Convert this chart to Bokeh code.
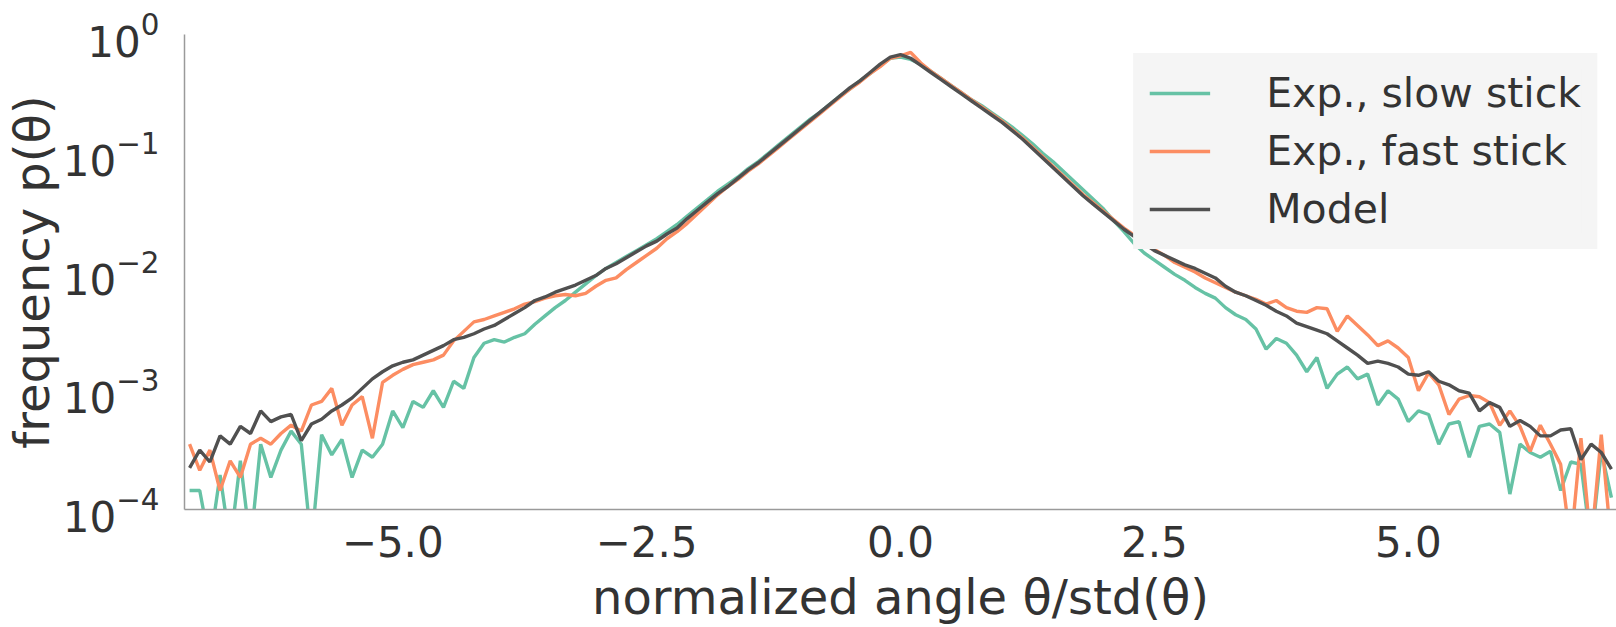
from bokeh.plotting import figure
from bokeh.models import Range1d, FixedTicker, Legend, LegendItem, LogTicker
from bokeh.embed import file_html
from bokeh.resources import INLINE

# normalized angle grid (bin centres)
angle = [round(-7.0 + 0.1 * i, 1) for i in range(141)]

# log10 of frequency
slow_log10 = [
    -3.84, -3.84, -4.30, -3.71, -4.30, -3.59, -4.30, -3.45, -3.73, -3.50,
    -3.34, -3.45, -4.30, -3.37, -3.54, -3.41, -3.73, -3.50, -3.56, -3.45,
    -3.17, -3.31, -3.09, -3.14, -3.00, -3.14, -2.92, -2.98, -2.72, -2.60,
    -2.57, -2.59, -2.55, -2.52, -2.44, -2.37, -2.30, -2.24, -2.17, -2.10,
    -2.03, -1.97, -1.92, -1.87, -1.82, -1.77, -1.72, -1.66, -1.60, -1.53,
    -1.46, -1.39, -1.32, -1.26, -1.20, -1.13, -1.07, -1.00, -0.93, -0.86,
    -0.79, -0.72, -0.66, -0.59, -0.52, -0.46, -0.39, -0.33, -0.26, -0.20,
    -0.19,
    -0.21, -0.25, -0.31, -0.37, -0.43, -0.49, -0.55, -0.60, -0.66, -0.72,
    -0.78, -0.85, -0.92, -1.00, -1.07, -1.15, -1.23, -1.31, -1.39, -1.47,
    -1.57, -1.66, -1.76, -1.84, -1.90, -1.96, -2.02, -2.07, -2.13, -2.18,
    -2.22, -2.30, -2.36, -2.40, -2.48, -2.65, -2.56, -2.60, -2.70, -2.84,
    -2.72, -2.98, -2.86, -2.80, -2.90, -2.86, -3.12, -3.00, -3.07, -3.26,
    -3.17, -3.20, -3.45, -3.28, -3.26, -3.56, -3.30, -3.28, -3.35, -3.87,
    -3.45, -3.52, -3.56, -3.51, -3.84, -3.60, -3.62, -4.30, -3.51, -3.90,
]

fast_log10 = [
    -3.45, -3.67, -3.50, -3.84, -3.59, -3.73, -3.45, -3.40, -3.45, -3.36,
    -3.29, -3.34, -3.12, -3.09, -2.98, -3.29, -3.12, -3.05, -3.40, -2.93,
    -2.87, -2.82, -2.78, -2.76, -2.74, -2.70, -2.58, -2.50, -2.42, -2.40,
    -2.37, -2.34, -2.31, -2.27, -2.25, -2.22, -2.20, -2.19, -2.20, -2.18,
    -2.12, -2.07, -2.05, -1.98, -1.92, -1.86, -1.80, -1.72, -1.66, -1.59,
    -1.51, -1.43, -1.35, -1.28, -1.22, -1.15, -1.09, -1.02, -0.95, -0.88,
    -0.81, -0.74, -0.67, -0.60, -0.53, -0.46, -0.40, -0.33, -0.27, -0.20,
    -0.18,
    -0.15, -0.24, -0.31, -0.37, -0.43, -0.49, -0.55, -0.61, -0.67, -0.73,
    -0.80, -0.87, -0.95, -1.03, -1.11, -1.19, -1.27, -1.35, -1.42, -1.49,
    -1.56, -1.63, -1.69, -1.75, -1.81, -1.86, -1.92, -1.96, -2.00, -2.05,
    -2.09, -2.13, -2.17, -2.20, -2.23, -2.27, -2.24, -2.30, -2.33, -2.34,
    -2.30, -2.31, -2.50, -2.37, -2.45, -2.53, -2.62, -2.58, -2.64, -2.72,
    -3.00, -2.85, -2.95, -3.20, -3.07, -3.04, -3.05, -3.10, -3.29, -3.17,
    -3.30, -3.51, -3.29, -3.45, -3.62, -4.30, -3.40, -4.30, -3.37, -4.30,
]

model_log10 = [
    -3.65, -3.50, -3.60, -3.38, -3.45, -3.30, -3.36, -3.17, -3.26, -3.22,
    -3.20, -3.42, -3.28, -3.24, -3.17, -3.12, -3.06, -2.98, -2.90, -2.84,
    -2.79, -2.76, -2.74, -2.70, -2.66, -2.62, -2.57, -2.55, -2.52, -2.48,
    -2.45, -2.40, -2.35, -2.30, -2.24, -2.21, -2.17, -2.14, -2.11, -2.07,
    -2.03, -1.97, -1.93, -1.88, -1.83, -1.78, -1.74, -1.68, -1.63, -1.55,
    -1.48, -1.41, -1.34, -1.28, -1.21, -1.14, -1.08, -1.01, -0.94, -0.87,
    -0.80, -0.73, -0.66, -0.59, -0.52, -0.45, -0.39, -0.32, -0.25, -0.19,
    -0.17,
    -0.20, -0.26, -0.32, -0.38, -0.44, -0.50, -0.56, -0.62, -0.68, -0.74,
    -0.81, -0.88, -0.96, -1.04, -1.12, -1.20, -1.28, -1.36, -1.43, -1.50,
    -1.57, -1.64, -1.70, -1.76, -1.82, -1.86, -1.90, -1.94, -1.97, -2.01,
    -2.05, -2.12, -2.17, -2.20, -2.24, -2.28, -2.33, -2.37, -2.43, -2.46,
    -2.49, -2.52, -2.58, -2.64, -2.70, -2.77, -2.75, -2.77, -2.80, -2.86,
    -2.87, -2.84, -2.92, -2.95, -3.00, -3.02, -3.17, -3.10, -3.14, -3.30,
    -3.25, -3.30, -3.38, -3.38, -3.33, -3.32, -3.58, -3.45, -3.52, -3.66,
]

series_names = ["Exp., slow stick", "Exp., fast stick", "Model"]
series_colors = ["#66c2a5", "#fc8d62", "#505050"]

x_ticks = [-5.0, -2.5, 0.0, 2.5, 5.0]
x_tick_labels = ["\u22125.0", "\u22122.5", "0.0", "2.5", "5.0"]

FONT = "DejaVu Sans"
LEGEND_BG = "#f5f5f5"

p = figure(width=1616, height=627, output_backend="svg", toolbar_location=None,
           y_axis_type="log",
           x_range=Range1d(-7.05, 7.05), y_range=Range1d(1e-4, 1.0),
           min_border_left=183, min_border_right=0, min_border_top=34,
           min_border_bottom=115)
p.outline_line_color = None
p.background_fill_color = "white"
p.border_fill_color = "white"
p.xgrid.visible = False
p.ygrid.visible = False

renderers = []
for vals, color in zip([slow_log10, fast_log10, model_log10], series_colors):
    freq = [10 ** v for v in vals]
    r = p.line(angle, freq, line_color=color, line_width=3.4)
    renderers.append(r)

for ax in (p.xaxis[0], p.yaxis[0]):
    ax.axis_line_color = "#9a9a9a"
    ax.axis_line_width = 1.5
    ax.major_tick_line_color = None
    ax.minor_tick_line_color = None
    ax.major_label_text_font = FONT
    ax.major_label_text_color = "#333333"
    ax.major_label_text_font_size = "42px"
    ax.axis_label_text_font = FONT
    ax.axis_label_text_color = "#333333"
    ax.axis_label_text_font_size = "48px"
    ax.axis_label_text_font_style = "normal"

p.xaxis[0].ticker = FixedTicker(ticks=x_ticks)
p.xaxis[0].major_label_overrides = dict(zip(x_ticks, x_tick_labels))
p.xaxis[0].major_label_standoff = 10
p.xaxis[0].axis_label = "normalized angle \u03b8/std(\u03b8)"
p.xaxis[0].axis_label_standoff = 9

p.yaxis[0].ticker = LogTicker(desired_num_ticks=5)
p.yaxis[0].major_label_standoff = 19
p.yaxis[0].axis_label = "frequency p(\u03b8)"
p.yaxis[0].axis_label_standoff = 0

legend = Legend(items=[LegendItem(label=n, renderers=[r]) for n, r in zip(series_names, renderers)],
                location="top_right")
# a border in the background colour gives the box its inner padding
legend.margin = 19
legend.padding = 0
legend.spacing = 10
legend.glyph_width = 61
legend.glyph_height = 30
legend.label_height = 30
legend.label_standoff = 56
legend.label_text_font = FONT
legend.label_text_font_size = "41px"
legend.label_text_color = "#333333"
legend.background_fill_color = LEGEND_BG
legend.background_fill_alpha = 1.0
legend.border_line_color = LEGEND_BG
legend.border_line_width = 16
legend.border_line_join = "miter"
p.add_layout(legend, "center")

open("out.html", "w").write(file_html(p, INLINE))
